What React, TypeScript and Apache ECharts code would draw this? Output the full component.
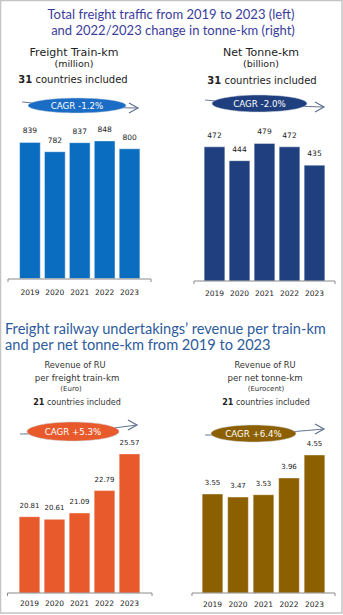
import React, { useEffect, useRef } from "react";
import * as echarts from "echarts";

const years = ["2019", "2020", "2021", "2022", "2023"];
const trainKm = [839, 782, 837, 848, 800];
const tonneKm = [472, 444, 479, 472, 435];
const revTrainKm = [20.81, 20.61, 21.09, 22.79, 25.57];
const revTonneKm = [3.55, 3.47, 3.53, 3.96, 4.55];
const cagrLabels = ["CAGR -1.2%", "CAGR -2.0%", "CAGR +5.3%", "CAGR +6.4%"];

const FONT = "Lato, 'DejaVu Sans', sans-serif";
const DV = "'DejaVu Sans', sans-serif";
const C1 = "#0b6dbf";
const C2 = "#1f3f7e";
const C3 = "#e85a2b";
const C4 = "#8c6000";
const ARROW = "#5f7090";
const TXT = "#222";

function txt(x: number, y: number, text: string, size: number, opts: any = {}) {
  return {
    type: "text",
    x,
    y,
    z: 10,
    style: {
      text,
      fontSize: size,
      fontFamily: opts.font || DV,
      fill: opts.fill || TXT,
      fontWeight: opts.weight || "normal",
      align: opts.align || "center",
      verticalAlign: "middle",
      rich: opts.rich,
    },
  };
}

function boldNum(size: number) {
  return { b: { fontWeight: "bold", fontSize: size, fontFamily: DV, fill: TXT } };
}

function cagr(
  lx: number, ly: number, cx: number, cy: number, rx: number, ry: number,
  tx: number, ty: number, color: string, label: string
) {
  return [
    {
      type: "polyline",
      z: 1,
      shape: { points: [[lx, ly], [cx, cy + 1], [tx, ty]], smooth: 0.3 },
      style: { stroke: ARROW, lineWidth: 1, fill: "none" },
    },
    {
      type: "polyline",
      z: 1,
      shape: { points: [[tx - 9, ty - 5], [tx, ty], [tx - 9, ty + 5]] },
      style: { stroke: ARROW, lineWidth: 1.2, fill: "none" },
    },
    {
      type: "ellipse",
      z: 2,
      shape: { cx, cy, rx, ry },
      style: { fill: color, stroke: "#c8d0dc", lineWidth: 0.5 },
    },
    txt(cx, cy, label, 8.7, { fill: "#fff" }),
  ];
}

function baseline(x1: number, x2: number, y: number) {
  return {
    type: "polyline",
    z: 5,
    shape: { points: [[x1, y + 3], [x1, y], [x2, y], [x2, y + 3]] },
    style: { stroke: "#8a8a8a", lineWidth: 1, fill: "none" },
  };
}

export default function App() {
  const ref = useRef<HTMLDivElement>(null);
  useEffect(() => {
    if (!ref.current) return;
    const chart = echarts.init(ref.current, null, { renderer: "svg" });

    const grids = [
      { left: 17.5, width: 124.5, top: 115.7, height: 163.3 },
      { left: 202, width: 125, top: 132.6, height: 148.4 },
      { left: 17, width: 125, top: 434.6, height: 158.4 },
      { left: 199.75, width: 127.5, top: 437, height: 156 },
    ];
    const yRanges = [
      [0, 1000],
      [200, 500],
      [15, 27],
      [1, 5],
    ];
    const margins = [9, 8, 6, 7];
    const datas = [trainKm, tonneKm, revTrainKm, revTonneKm];
    const colors = [C1, C2, C3, C4];
    const fmts = [
      (v: number) => String(v),
      (v: number) => String(v),
      (v: number) => v.toFixed(2),
      (v: number) => v.toFixed(2),
    ];

    const graphic: any[] = [
      {
        type: "rect",
        z: 0,
        shape: { x: 0.5, y: 0.5, width: 341.5, height: 612.5 },
        style: { fill: "none", stroke: "#c4c4c4", lineWidth: 1.5 },
      },
      txt(171, 14, "Total freight traffic from 2019 to 2023 (left)", 13, { fill: "#3a3d9b", font: FONT }),
      txt(173, 30, "and 2022/2023 change in tonne-km (right)", 13, { fill: "#3a3d9b", font: FONT }),
      txt(74, 52, "Freight Train-km", 11),
      txt(74, 63.5, "(million)", 9.5),
      txt(73, 79, "{b|31} countries included", 10, { rich: boldNum(10) }),
      txt(261, 52, "Net Tonne-km", 11),
      txt(261, 63.5, "(billion)", 9.5),
      txt(262, 80, "{b|31} countries included", 10, { rich: boldNum(10) }),
      txt(5, 328, "Freight railway undertakings\u2019 revenue per train-km", 14.6, { fill: "#2e5b9c", align: "left", font: FONT }),
      txt(5, 344, "and per net tonne-km from 2019 to 2023", 14.6, { fill: "#2e5b9c", align: "left", font: FONT }),
      txt(75, 365, "Revenue of RU", 8.3, { fill: "#333" }),
      txt(77, 378, "per freight train-km", 8.6, { fill: "#333" }),
      txt(71, 389, "(Euro)", 7, { fill: "#333" }),
      txt(77, 402, "{b|21} countries included", 8, { rich: boldNum(8), fill: "#333" }),
      txt(265, 365, "Revenue of RU", 8.3, { fill: "#333" }),
      txt(265, 378, "per net tonne-km", 8.6, { fill: "#333" }),
      txt(266, 389, "(Eurocent)", 7, { fill: "#333" }),
      txt(266, 402, "{b|21} countries included", 8, { rich: boldNum(8), fill: "#333" }),
      ...cagr(22, 102, 77, 105.5, 49, 7.5, 138, 108, "#1a6cc4", cagrLabels[0]),
      ...cagr(205, 100, 259.5, 103.5, 47.5, 8.5, 324, 107, C2, cagrLabels[1]),
      ...cagr(20, 434, 73, 431.5, 46, 9.5, 137, 425, C3, cagrLabels[2]),
      ...cagr(205, 435, 253.5, 433.5, 42.5, 8.5, 324, 429, C4, cagrLabels[3]),
      baseline(8, 151, 279),
      baseline(194, 335, 281),
      baseline(7.5, 152, 593),
      baseline(192, 335, 593),
    ];

    chart.setOption({
      animation: false,
      grid: grids.map((g) => ({ ...g, containLabel: false })),
      xAxis: grids.map((_, i) => ({
        type: "category",
        gridIndex: i,
        data: years,
        axisLine: { show: false },
        axisTick: { show: false },
        axisLabel: {
          margin: margins[i],
          fontSize: 7.5,
          color: TXT,
          fontFamily: DV,
        },
      })),
      yAxis: grids.map((_, i) => ({
        type: "value",
        gridIndex: i,
        min: yRanges[i][0],
        max: yRanges[i][1],
        show: false,
        splitLine: { show: false },
      })),
      series: datas.map((d, i) => ({
        type: "bar",
        xAxisIndex: i,
        yAxisIndex: i,
        data: d,
        barWidth: 21.5,
        itemStyle: {
          color: colors[i],
          borderColor: "rgba(255,255,255,0.55)",
          borderWidth: 0.8,
        },
        label: {
          show: true,
          position: "top",
          distance: 7,
          fontSize: i < 2 ? 7.5 : 7,
          color: TXT,
          fontFamily: DV,
          formatter: (p: any) => fmts[i](p.value),
        },
      })),
      graphic,
    });
    return () => chart.dispose();
  }, []);
  return (
    <div
      ref={ref}
      style={{ position: "fixed", left: 0, top: 0, width: 343, height: 615, background: "#fff" }}
    />
  );
}
